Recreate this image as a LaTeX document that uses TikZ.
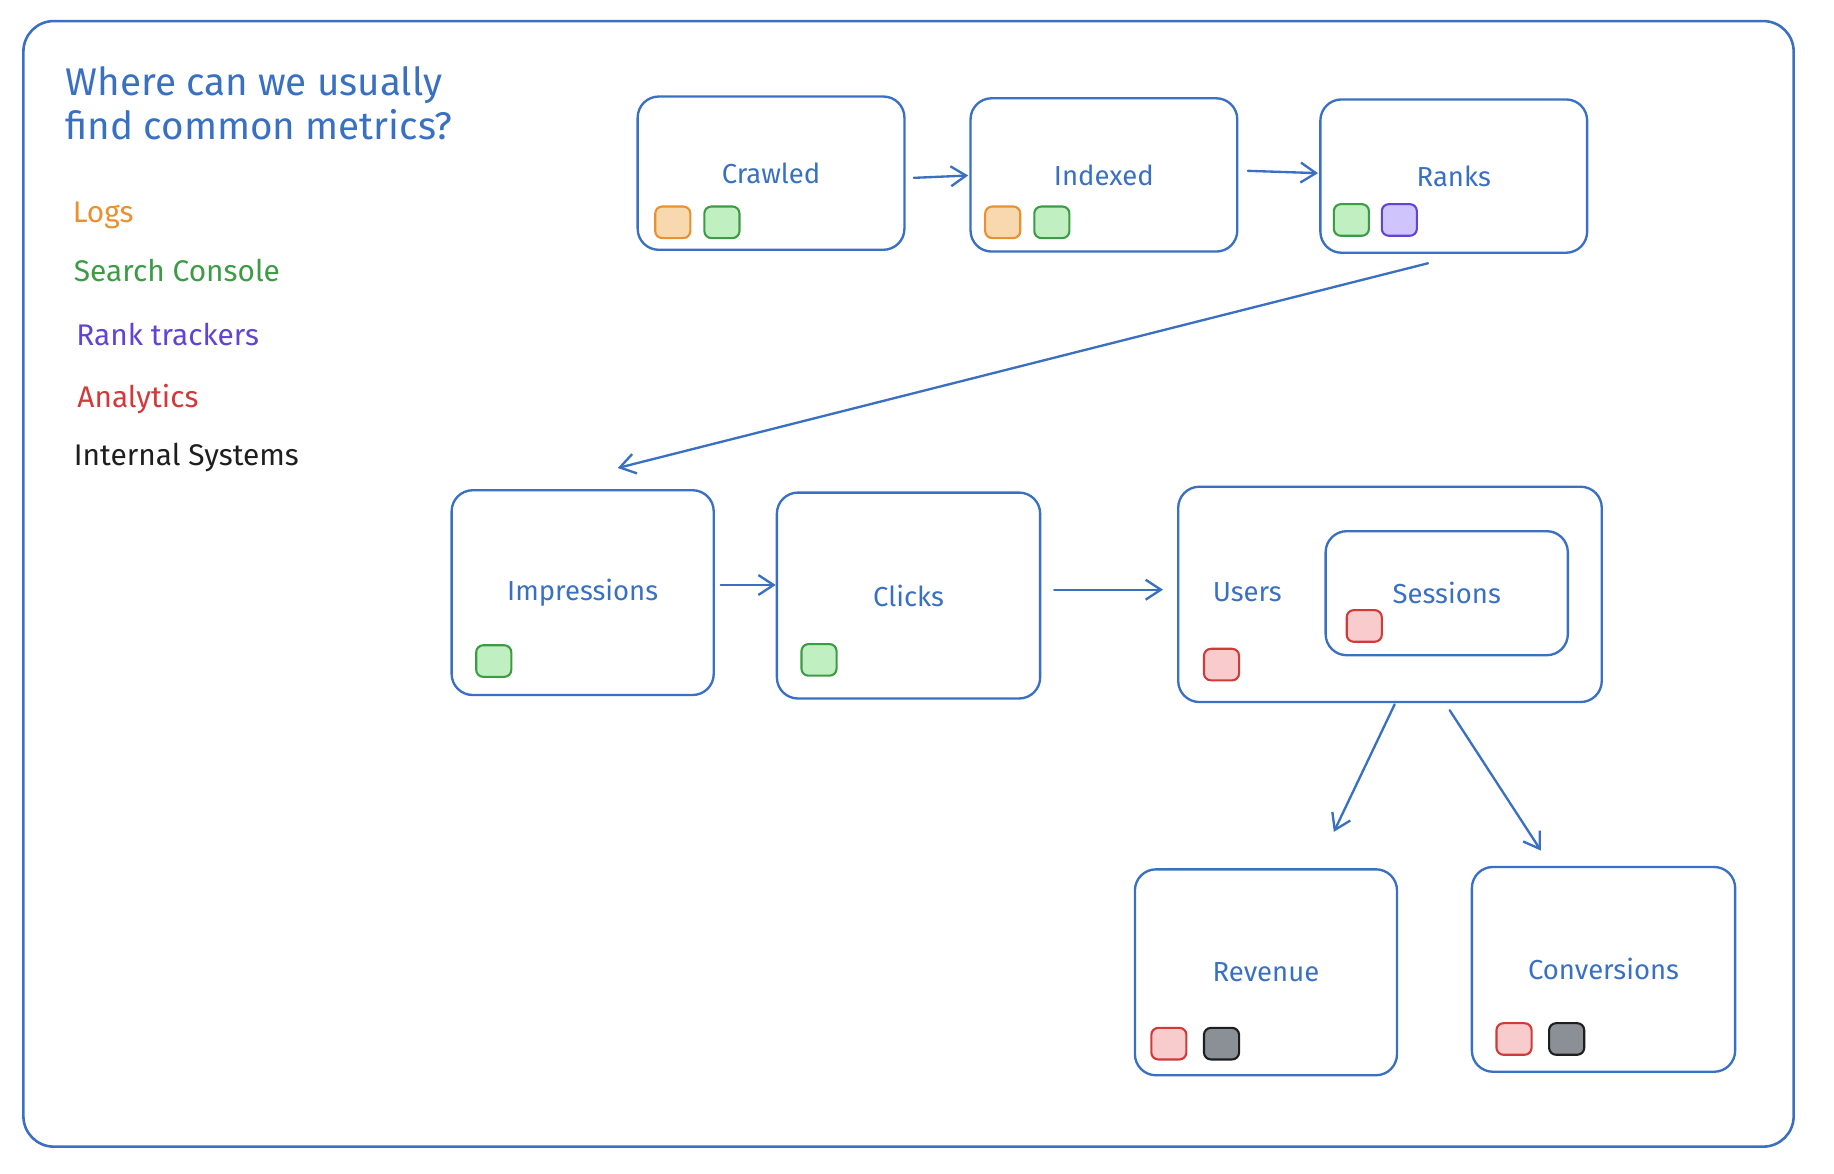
\documentclass[tikz,border=0pt]{standalone}
\usepackage{fontspec}
\setmainfont{Fira Sans}
\usepackage{tikz}
\usetikzlibrary{arrows.meta}
\definecolor{inkblue}{HTML}{3A70C2}
\definecolor{logsline}{HTML}{E8912E}
\definecolor{logsfill}{HTML}{F8D8AE}
\definecolor{gscline}{HTML}{3E9B45}
\definecolor{gscfill}{HTML}{C0F0C2}
\definecolor{rankline}{HTML}{6244D4}
\definecolor{rankfill}{HTML}{D0C4FC}
\definecolor{analine}{HTML}{D23A3A}
\definecolor{anafill}{HTML}{F8CCCC}
\definecolor{intline}{HTML}{1E1E1E}
\definecolor{intfill}{HTML}{8A9096}
\newcommand{\chip}[4]{\node[chip, draw=#1line, fill=#1fill] (#2) at ( #3 , #4 ) {};}
\tikzset{
  box/.style={draw=inkblue, line width=2pt, rounded corners=18pt, text=inkblue,
    font=\fontsize{23.5}{28}\selectfont, minimum width=228pt, minimum height=131pt, inner sep=0pt},
  boxlabel/.style={text=inkblue, font=\fontsize{23.5}{28}\selectfont, inner sep=0pt},
  chip/.style={line width=1.8pt, rounded corners=6pt, minimum width=30pt, minimum height=27pt, inner sep=0pt},
  legend/.style={anchor=west, inner sep=0pt, font=\fontsize{25.5}{30}\selectfont},
  arr/.style={draw=inkblue, line width=2pt, line cap=round, -{Straight Barb[length=13pt,width=17pt,line width=2pt]}}
}
\begin{document}
\begin{tikzpicture}[x=1pt, y=-1pt]
    \useasboundingbox (0,0) rectangle (1567.5,1003.4);
    % frame
    \draw[inkblue, line width=2.2pt, rounded corners=26pt] (20,18) rectangle (1533,980);
    % title and legend
    \node[anchor=north west, inner sep=0pt, align=left, text=inkblue, font=\fontsize{33}{37}\selectfont] (title) at (56,57) {Where can we usually\\find common metrics?};
    \node[legend, text=logsline] (logs) at (62,184) {Logs};
    \node[legend, text=gscline] (gsc) at (63,231) {Search Console};
    \node[legend, text=rankline] (rank) at (65,286) {Rank trackers};
    \node[legend, text=analine] (ana) at (66,341) {Analytics};
    \node[legend, text=intline] (int) at (63,391) {Internal Systems};
    % row 1
    \node[box] (crawled) at (659,148) {Crawled};
    \node[box] (indexed) at (943.5,149.5) {Indexed};
    \node[box] (ranks) at (1242.5,150.5) {Ranks};
    \chip{logs}{crawledlogs}{575}{190}
    \chip{gsc}{crawledgsc}{617}{190}
    \chip{logs}{indexedlogs}{857}{190}
    \chip{gsc}{indexedgsc}{899}{190}
    \chip{gsc}{ranksgsc}{1155}{188}
    \chip{rank}{ranksrank}{1196}{188}
    % row 2
    \node[box, minimum width=224pt, minimum height=175pt] (impr) at (498,506.5) {Impressions};
    \node[box, minimum width=225pt, minimum height=176pt] (clicks) at (776.5,509) {Clicks};
    \node[box, minimum width=362pt, minimum height=184pt] (users) at (1188,508) {};
    \node[boxlabel] (userslabel) at (1066,506) {Users};
    \node[box, minimum width=207pt, minimum height=106pt] (sessions) at (1236.5,507) {Sessions};
    \chip{gsc}{imprgsc}{422}{565}
    \chip{gsc}{clicksgsc}{700}{564}
    \chip{ana}{usersana}{1044}{568}
    \chip{ana}{sessionsana}{1166}{535}
    % row 3
    \node[box, minimum width=224pt, minimum height=176pt] (revenue) at (1082,831) {Revenue};
    \node[box, minimum width=225pt, minimum height=175pt] (conv) at (1370.5,828.5) {Conversions};
    \chip{ana}{revenueana}{999}{892}
    \chip{int}{revenueint}{1044}{892}
    \chip{ana}{convana}{1294}{888}
    \chip{int}{convint}{1339}{888}
    % arrows
    \draw[arr] ([xshift=7pt,yshift=-4pt]crawled.east) -- ([xshift=-1pt,yshift=-0.5pt]indexed.west);
    \draw[arr] ([xshift=8pt,yshift=3.5pt]indexed.east) -- ([xshift=-1pt,yshift=2.5pt]ranks.west);
    \draw[arr] ([xshift=-22pt,yshift=-8pt]ranks.south) -- ([xshift=30pt,yshift=18pt]impr.north);
    \draw[arr] ([xshift=5pt,yshift=6.5pt]impr.east) -- ([yshift=9pt]clicks.west);
    \draw[arr] ([xshift=11pt,yshift=5pt]clicks.east) -- ([xshift=-12pt,yshift=4pt]users.west);
    \draw[arr] ([xshift=4pt,yshift=-1pt]users.south) -- ([xshift=58pt,yshift=31pt]revenue.north);
    \draw[arr] ([xshift=51pt,yshift=-6pt]users.south) -- ([xshift=-53.5pt,yshift=13pt]conv.north);
\end{tikzpicture}
\end{document}
